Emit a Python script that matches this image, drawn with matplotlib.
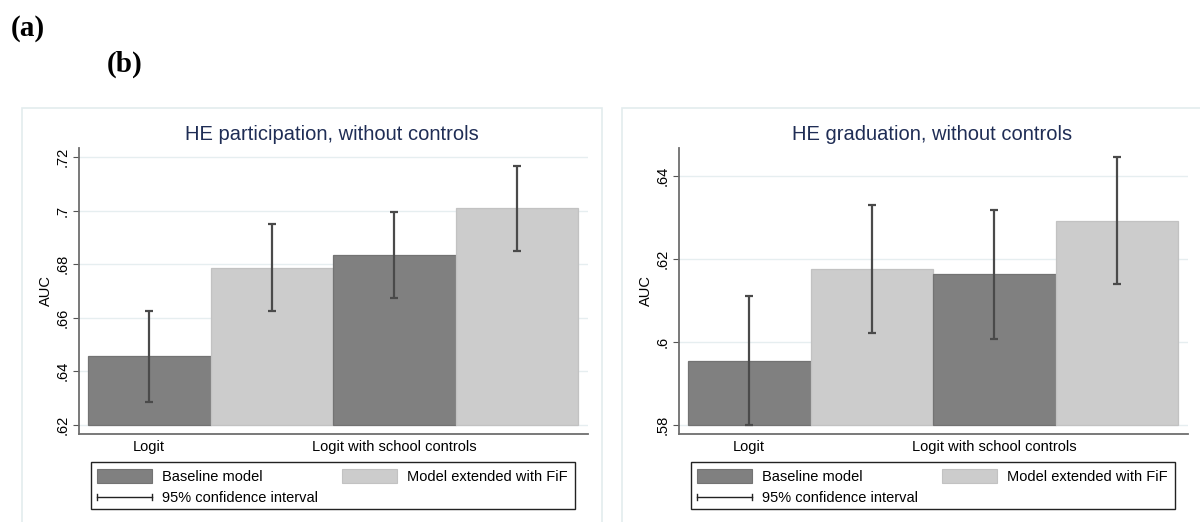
import matplotlib.pyplot as plt
from matplotlib.patches import Rectangle
from matplotlib.lines import Line2D

plt.rcParams["font.family"] = ["Liberation Sans", "DejaVu Sans"]

# data
models = ["Logit", "Logit with school controls"]
series = ["Baseline model", "Model extended with FiF"]

part_auc = [0.6455, 0.6786, 0.6835, 0.7010]
part_lo = [0.6283, 0.6625, 0.6672, 0.6851]
part_hi = [0.6626, 0.6950, 0.6997, 0.7169]
part_ticks = [0.62, 0.64, 0.66, 0.68, 0.70, 0.72]
part_ticklabels = [".62", ".64", ".66", ".68", ".7", ".72"]

grad_auc = [0.5955, 0.6176, 0.6163, 0.6292]
grad_lo = [0.5800, 0.6022, 0.6008, 0.6140]
grad_hi = [0.6110, 0.6330, 0.6317, 0.6446]
grad_ticks = [0.58, 0.60, 0.62, 0.64]
grad_ticklabels = [".58", ".6", ".62", ".64"]

titles = ["HE participation, without controls", "HE graduation, without controls"]

W, H = 1200, 522
dark, light = "#808080", "#cccccc"
fs = 10.5
fig = plt.figure(figsize=(12, 5.22), dpi=100)


def fx(px):
    return px / W


def fy(py):
    return 1 - py / H


def panel(x0, auc, lo, hi, ticks, ticklabels, ylim, title):
    # light outer frame of the Stata graph region
    fig.add_artist(Rectangle((fx(x0 + 22), fy(540)), fx(580), fy(108) - fy(540),
                             transform=fig.transFigure, fill=False,
                             edgecolor="#e3ecee", lw=1.2))
    ax = fig.add_axes([fx(x0 + 79), fy(434), fx(509), fy(148) - fy(434)])
    colors = [dark, light, dark, light]
    pos = [0, 1, 2, 3]
    ax.bar(pos, [a - ticks[0] for a in auc], width=1.0, bottom=ticks[0],
           color=colors, edgecolor=["#737373", "#c2c2c2"] * 2,
           linewidth=0.9, zorder=2)
    yerr = [[a - l for a, l in zip(auc, lo)], [h - a for a, h in zip(auc, hi)]]
    ax.errorbar(pos, auc, yerr=yerr, fmt="none", ecolor="#4a4a4a",
                elinewidth=1.6, capsize=2.7, capthick=1.6, zorder=3)
    ax.set_xlim(-0.573, 3.58)
    ax.set_ylim(*ylim)
    ax.set_yticks(ticks)
    ax.set_yticklabels(ticklabels, rotation=90, va="center", fontsize=fs)
    ax.set_xticks([0, 2])
    ax.set_xticklabels(models, fontsize=fs)
    ax.tick_params(axis="x", length=0, pad=4)
    ax.tick_params(axis="y", length=4.5, width=0.8, color="#555555", pad=2.5)
    ax.grid(axis="y", color="#e6eef0", lw=1.0, zorder=0)
    for s in ["top", "right"]:
        ax.spines[s].set_visible(False)
    for s in ["left", "bottom"]:
        ax.spines[s].set_color("#6e6e6e")
        ax.spines[s].set_linewidth(1.3)
    ax.set_ylabel("AUC", fontsize=fs, labelpad=1.5)
    fig.text(fx(x0 + 332), fy(134), title, ha="center", va="center",
             fontsize=14.5, color="#1f2d55")

    # legend box
    fig.add_artist(Rectangle((fx(x0 + 91), fy(509)), fx(484), fy(462) - fy(509),
                             transform=fig.transFigure, fill=False,
                             edgecolor="#222222", lw=1.0))
    fig.add_artist(Rectangle((fx(x0 + 97), fy(483)), fx(55), fy(469) - fy(483),
                             transform=fig.transFigure, facecolor=dark,
                             edgecolor="#737373", lw=0.8))
    fig.add_artist(Rectangle((fx(x0 + 342), fy(483)), fx(55), fy(469) - fy(483),
                             transform=fig.transFigure, facecolor=light,
                             edgecolor="#c2c2c2", lw=0.8))
    fig.add_artist(Line2D([fx(x0 + 97), fx(x0 + 152)], [fy(497), fy(497)],
                          transform=fig.transFigure, color="#222222", lw=1.0))
    for xx in (x0 + 97, x0 + 152):
        fig.add_artist(Line2D([fx(xx), fx(xx)], [fy(494), fy(500)],
                              transform=fig.transFigure, color="#222222", lw=1.0))
    fig.text(fx(x0 + 162), fy(477), series[0], ha="left", va="center", fontsize=fs)
    fig.text(fx(x0 + 568), fy(477), series[1], ha="right", va="center", fontsize=fs)
    fig.text(fx(x0 + 162), fy(498), "95% confidence interval", ha="left",
             va="center", fontsize=fs)
    return ax


panel(0, part_auc, part_lo, part_hi, part_ticks, part_ticklabels,
      (0.6165, 0.7235), titles[0])
panel(600, grad_auc, grad_lo, grad_hi, grad_ticks, grad_ticklabels,
      (0.5778, 0.6467), titles[1])

fig.text(fx(11), fy(28.5), "(a)", ha="left", va="center", fontsize=21,
         fontweight="bold", family=["Liberation Serif", "DejaVu Serif"])
fig.text(fx(107), fy(64), "(b)", ha="left", va="center", fontsize=21,
         fontweight="bold", family=["Liberation Serif", "DejaVu Serif"])

fig.savefig("out.png", dpi=100)
